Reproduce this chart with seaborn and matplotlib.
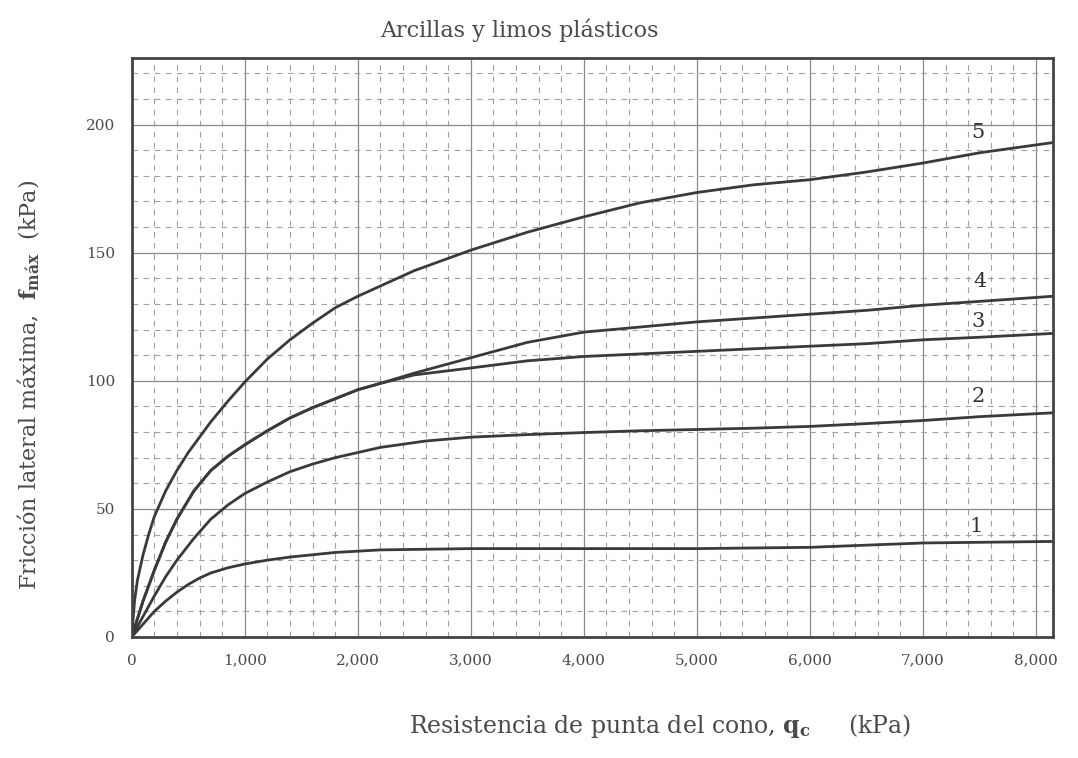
import matplotlib
matplotlib.use('Agg')
import matplotlib.pyplot as plt
import numpy as np
import seaborn as sns
import pandas as pd

# curves (qc in kPa, fmax in kPa)
qc_1 = [0, 100, 200, 300, 400, 500, 600, 700, 850, 1000, 1200, 1400, 1800, 2200, 3000, 4000, 5000, 6000, 7000, 8150]
f_1 = [0, 5, 10, 14, 17.5, 20.5, 23, 25, 27, 28.5, 30, 31.2, 33, 34, 34.5, 34.5, 34.5, 35, 36.7, 37.3]

qc_2 = [0, 100, 200, 300, 400, 550, 700, 850, 1000, 1200, 1400, 1600, 1800, 2000, 2200, 2600, 3000, 3500, 4000,
        4500, 5000, 5500, 6000, 6500, 7000, 7500, 8150]
f_2 = [0, 8, 16, 23.5, 30, 38.5, 46, 51.5, 56, 60.5, 64.5, 67.5, 70, 72, 74, 76.5, 78, 79, 79.8,
       80.5, 81, 81.5, 82.2, 83.3, 84.5, 86, 87.5]

qc_3 = [0, 100, 200, 300, 400, 550, 700, 850, 1000, 1200, 1400, 1600, 1800, 2000, 2200, 2500, 3000, 3500, 4000,
        4500, 5000, 5500, 6000, 6500, 7000, 7500, 8150]
f_3 = [0, 14, 26, 37, 46, 57, 65, 70.5, 75, 80.5, 85.5, 89.5, 93, 96.5, 99, 102.3, 105, 107.8, 109.5,
       110.5, 111.5, 112.5, 113.5, 114.5, 116, 117, 118.5]

qc_4 = [0, 100, 200, 300, 400, 550, 700, 850, 1000, 1200, 1400, 1600, 1800, 2000, 2200, 2500, 3000, 3500, 4000,
        4500, 5000, 5500, 6000, 6500, 7000, 7500, 8150]
f_4 = [0, 14, 26, 37, 46, 57, 65, 70.5, 75, 80.5, 85.5, 89.5, 93, 96.5, 99, 103, 109, 115, 119,
       121, 123, 124.5, 126, 127.5, 129.5, 131, 133]

qc_5 = [0, 25, 50, 100, 150, 200, 300, 400, 500, 600, 700, 850, 1000, 1200, 1400, 1600, 1800, 2000, 2200, 2500,
        3000, 3500, 4000, 4500, 5000, 5500, 6000, 6500, 7000, 7500, 8150]
f_5 = [0, 14, 22, 32, 40, 47, 57, 65, 72, 78, 84, 92, 99.5, 108.5, 116, 122.5, 128.5, 133, 137, 143,
       151, 158, 164, 169.5, 173.5, 176.5, 178.5, 181.5, 185, 189, 193]

curve_names = ['1', '2', '3', '4', '5']
label_qc = [7470, 7487, 7487, 7505, 7487]
label_f = [43, 93.7, 123, 138.7, 197]

title = 'Arcillas y limos plásticos'
x_ticks = [0, 1000, 2000, 3000, 4000, 5000, 6000, 7000, 8000]
x_ticklabels = ['0', '1,000', '2,000', '3,000', '4,000', '5,000', '6,000', '7,000', '8,000']
y_ticks = [0, 50, 100, 150, 200]

rows = []
for name, xs, ys in zip(curve_names, [qc_1, qc_2, qc_3, qc_4, qc_5], [f_1, f_2, f_3, f_4, f_5]):
    for x, y in zip(xs, ys):
        rows.append({'curva': name, 'qc': x, 'f': y})
df = pd.DataFrame(rows)

sns.set_style('white')
plt.rcParams['font.family'] = ['DejaVu Serif']
plt.rcParams['mathtext.fontset'] = 'dejavuserif'

txt = '#4a4a4a'
fig = plt.figure(figsize=(10.78, 7.58), dpi=100)
ax = fig.add_axes([131.7 / 1078, 1 - 637 / 758, (1053 - 131.7) / 1078, (637 - 58) / 758])

sns.lineplot(data=df, x='qc', y='f', units='curva', estimator=None, sort=False,
             color='#3a3a3a', linewidth=2.0, ax=ax)

ax.set_xlim(0, 8150)
ax.set_ylim(0, 226)
ax.set_xticks(x_ticks)
ax.set_xticklabels(x_ticklabels)
ax.set_yticks(y_ticks)
ax.set_xticks(np.arange(0, 8200, 200), minor=True)
ax.set_yticks(np.arange(0, 230, 10), minor=True)
ax.grid(which='major', color='#8a8a8a', linewidth=0.9)
ax.grid(which='minor', color='#a0a0a0', linewidth=0.8, linestyle=(0, (5, 5)))
ax.set_axisbelow(True)
ax.tick_params(which='both', length=0, labelsize=11, labelcolor=txt, pad=12)
for s in ax.spines.values():
    s.set_color('#444444')
    s.set_linewidth(2.0)

for name, x, y in zip(curve_names, label_qc, label_f):
    ax.text(x, y, name, fontsize=15, color='#333333', ha='center', va='center')

ax.text(0.421, 1.048, title, transform=ax.transAxes, ha='center', va='center',
        fontsize=16, color=txt)
ax.set_xlabel('Resistencia de punta del cono, $\\mathbf{q_c}$     (kPa)', fontsize=17, color=txt)
ax.xaxis.set_label_coords(0.573, -0.13)
ax.set_ylabel('Fricción lateral máxima,  $\\mathbf{f_{máx}}$  (kPa)', fontsize=16, color=txt)
ax.yaxis.set_label_coords(-0.097, 0.435)

fig.savefig('out.png', dpi=100)
